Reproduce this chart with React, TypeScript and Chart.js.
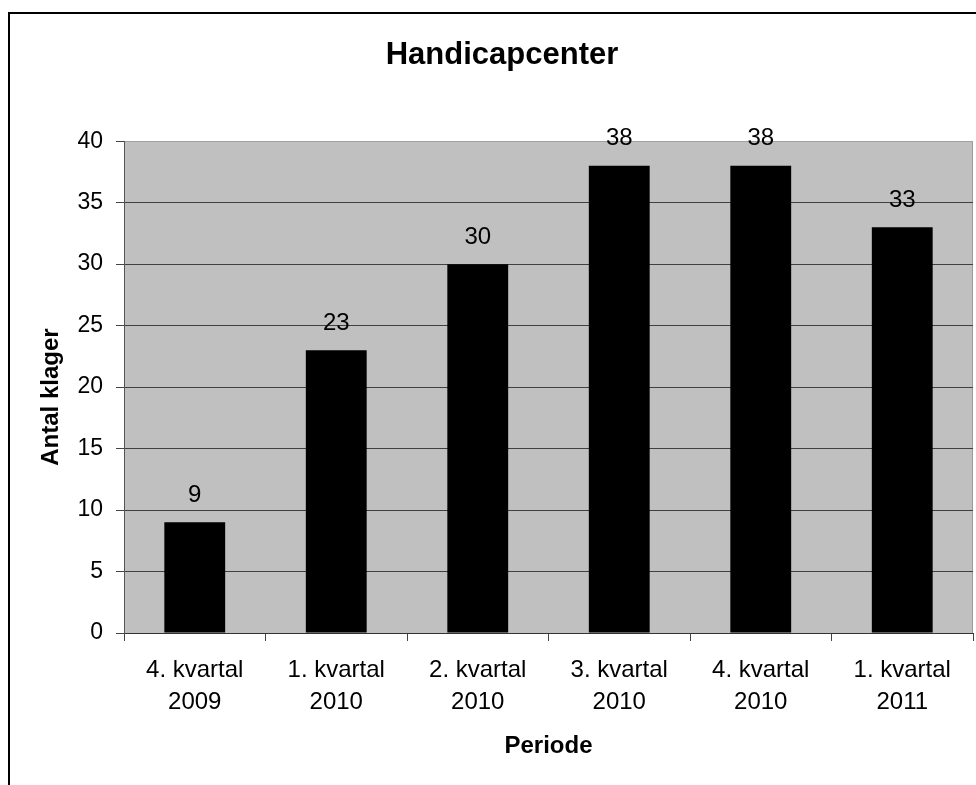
import React, { useEffect, useRef } from "react";
import { Chart, registerables } from "chart.js";

Chart.register(...registerables);

const categories: string[][] = [
  ["4. kvartal", "2009"],
  ["1. kvartal", "2010"],
  ["2. kvartal", "2010"],
  ["3. kvartal", "2010"],
  ["4. kvartal", "2010"],
  ["1. kvartal", "2011"],
];
const complaints: number[] = [9, 23, 30, 38, 38, 33];
const yMin = 0;
const yMax = 40;
const yStep = 5;
const yTitle = "Antal klager";

const FONT = "'Liberation Sans', Arial, sans-serif";

const framePlugin = {
  id: "frame",
  beforeDraw(chart: any) {
    const { ctx, chartArea } = chart;
    ctx.save();
    ctx.fillStyle = "#ffffff";
    ctx.fillRect(0, 0, chart.width, chart.height);
    ctx.fillStyle = "#C0C0C0";
    ctx.fillRect(chartArea.left, chartArea.top, chartArea.right - chartArea.left, chartArea.bottom - chartArea.top);
    ctx.strokeStyle = "#9a9a9a";
    ctx.lineWidth = 1;
    ctx.beginPath();
    ctx.moveTo(chartArea.right - 0.5, chartArea.top);
    ctx.lineTo(chartArea.right - 0.5, chartArea.bottom);
    ctx.stroke();
    ctx.fillStyle = "#000000";
    ctx.fillRect(8, 12, 2, chart.height - 12);
    ctx.fillRect(8, 12, chart.width - 8, 2);
    ctx.restore();
  },
  afterDraw(chart: any) {
    const { ctx, chartArea } = chart;
    ctx.save();
    ctx.font = `bold 24px ${FONT}`;
    ctx.fillStyle = "#000";
    ctx.textAlign = "center";
    ctx.textBaseline = "middle";
    ctx.translate(51, (chartArea.top + chartArea.bottom) / 2 + 10);
    ctx.rotate(-Math.PI / 2);
    ctx.fillText(yTitle, 0, 0);
    ctx.restore();
  },
};

const valueLabels = {
  id: "valueLabels",
  afterDatasetsDraw(chart: any) {
    const { ctx } = chart;
    const meta = chart.getDatasetMeta(0);
    ctx.save();
    ctx.font = `24px ${FONT}`;
    ctx.fillStyle = "#000";
    ctx.textAlign = "center";
    ctx.textBaseline = "middle";
    meta.data.forEach((bar: any, i: number) => {
      ctx.fillText(String(chart.data.datasets[0].data[i]), bar.x, bar.y - 27);
    });
    ctx.restore();
  },
};

export default function App() {
  const ref = useRef<HTMLCanvasElement | null>(null);
  useEffect(() => {
    if (!ref.current) return;
    Chart.defaults.color = "#000";
    const chart = new Chart(ref.current, {
      type: "bar",
      data: {
        labels: categories,
        datasets: [
          {
            data: complaints,
            backgroundColor: "#000000",
            borderWidth: 0,
            barPercentage: 0.43,
            categoryPercentage: 1,
          },
        ],
      },
      options: {
        responsive: false,
        animation: false,
        layout: { padding: { left: 31, right: 3, top: 0, bottom: 0 } },
        plugins: {
          legend: { display: false },
          tooltip: { enabled: false },
          title: {
            display: true,
            text: "Handicapcenter",
            color: "#000",
            font: { family: FONT, size: 31, weight: "bold", lineHeight: 1.2 },
            padding: { top: 37, bottom: 67 },
          },
        },
        scales: {
          x: {
            offset: true,
            afterFit: (s: any) => {
              s.height = 152;
            },
            grid: {
              offset: true,
              drawOnChartArea: false,
              drawTicks: true,
              tickLength: 8,
              tickColor: "#444",
            },
            border: { color: "#333", width: 1 },
            ticks: {
              color: "#000",
              padding: 13,
              maxRotation: 0,
              autoSkip: false,
              font: { family: FONT, size: 24, lineHeight: 1.333 },
            },
            title: {
              display: true,
              text: "Periode",
              color: "#000",
              font: { family: FONT, size: 24, weight: "bold", lineHeight: 1.2 },
              padding: { top: 0, bottom: 24 },
            },
          },
          y: {
            min: yMin,
            max: yMax,
            afterFit: (s: any) => {
              s.width = 93;
            },
            grid: {
              color: (c: any) => (c.tick && c.tick.value === yMax ? "#a0a0a0" : "#404040"),
              tickColor: "#444",
              tickLength: 8,
              drawTicks: true,
            },
            border: { color: "#555", width: 1 },
            ticks: {
              stepSize: yStep,
              color: "#000",
              padding: 13,
              font: { family: FONT, size: 23 },
            },
          },
        },
      },
      plugins: [framePlugin, valueLabels],
    });
    return () => chart.destroy();
  }, []);
  return (
    <div style={{ position: "fixed", left: 0, top: 0, width: 976, height: 785, background: "#fff" }}>
      <canvas ref={ref} width={976} height={785} style={{ display: "block" }} />
    </div>
  );
}
